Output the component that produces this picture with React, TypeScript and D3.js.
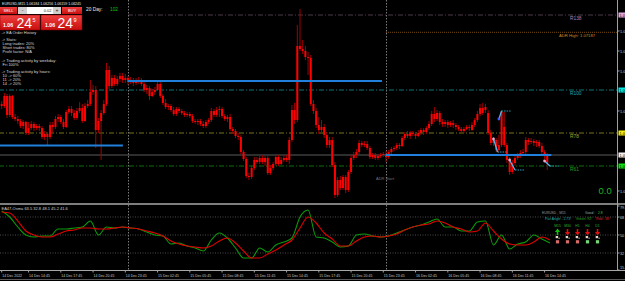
import React from "react";
import * as d3 from "d3";

const W = 625;
const H = 281;
const FONT = "'Liberation Sans', Arial, sans-serif";

// M15 bars; bar index 0 = 15 Dec 2022 00:00
const FIRST_BAR = -47;
const opens = [
  1.0647,1.0645,1.0655,1.0636,1.0655,1.0634,1.0632,1.0630,1.0625,1.0629,
  1.0618,1.0623,1.0627,1.0623,1.0625,1.0623,1.0614,1.0617,1.0614,1.0626,
  1.0624,1.0632,1.0634,1.0629,1.0624,1.0639,1.0642,1.0638,1.0633,1.0640,
  1.0643,1.0630,1.0645,1.0647,1.0659,1.0661,1.0621,1.0630,1.0638,1.0647,
  1.0681,1.0665,1.0673,1.0667,1.0672,1.0675,1.0671,1.0673,1.0669,1.0671,
  1.0668,1.0670,1.0671,1.0667,1.0661,1.0663,1.0655,1.0659,1.0661,1.0667,
  1.0655,1.0648,1.0644,1.0645,1.0641,1.0637,1.0642,1.0640,1.0638,1.0636,
  1.0637,1.0635,1.0630,1.0629,1.0630,1.0627,1.0625,1.0629,1.0631,1.0640,
  1.0636,1.0641,1.0642,1.0635,1.0632,1.0634,1.0622,1.0620,1.0615,1.0614,
  1.0599,1.0592,1.0575,1.0574,1.0583,1.0591,1.0589,1.0593,1.0589,1.0593,
  1.0578,1.0583,1.0587,1.0594,1.0587,1.0591,1.0593,1.0591,1.0611,1.0641,
  1.0631,1.0705,1.0702,1.0700,1.0694,1.0693,1.0647,1.0640,1.0626,1.0621,
  1.0624,1.0616,1.0606,1.0611,1.0586,1.0556,1.0571,1.0563,1.0574,1.0561,
  1.0579,1.0593,1.0596,1.0599,1.0608,1.0606,1.0607,1.0603,1.0594,1.0596,
  1.0593,1.0595,1.0596,1.0597,1.0594,1.0599,1.0602,1.0603,1.0606,1.0605,
  1.0613,1.0617,1.0615,1.0618,1.0617,1.0615,1.0618,1.0621,1.0619,1.0623,
  1.0627,1.0637,1.0632,1.0638,1.0629,1.0627,1.0629,1.0626,1.0628,1.0626,
  1.0624,1.0622,1.0620,1.0622,1.0624,1.0621,1.0626,1.0631,1.0637,1.0643,
  1.0641,1.0638,1.0618,1.0608,1.0611,1.0601,1.0606,1.0624,1.0606,1.0591,
  1.0579,1.0588,1.0593,1.0595,1.0598,1.0599,1.0611,1.0609,1.0610,1.0608,
  1.0609,1.0605,1.0599,1.0595,
];
const highs = [
  1.0650,1.0658,1.0657,1.0657,1.0656,1.0637,1.0635,1.0632,1.0631,1.0630,
  1.0629,1.0630,1.0629,1.0627,1.0627,1.0625,1.0620,1.0619,1.0629,1.0629,
  1.0635,1.0637,1.0636,1.0632,1.0641,1.0645,1.0645,1.0641,1.0643,1.0649,
  1.0647,1.0648,1.0651,1.0671,1.0666,1.0665,1.0633,1.0641,1.0651,1.0688,
  1.0685,1.0676,1.0676,1.0675,1.0678,1.0678,1.0677,1.0675,1.0674,1.0673,
  1.0673,1.0674,1.0673,1.0669,1.0666,1.0665,1.0662,1.0664,1.0670,1.0669,
  1.0657,1.0652,1.0647,1.0647,1.0644,1.0644,1.0644,1.0642,1.0640,1.0639,
  1.0639,1.0637,1.0632,1.0632,1.0632,1.0630,1.0631,1.0633,1.0643,1.0642,
  1.0644,1.0645,1.0644,1.0637,1.0636,1.0637,1.0624,1.0622,1.0618,1.0616,
  1.0601,1.0594,1.0578,1.0586,1.0594,1.0594,1.0595,1.0596,1.0595,1.0595,
  1.0586,1.0589,1.0596,1.0596,1.0594,1.0596,1.0596,1.0614,1.0646,1.0648,
  1.0726,1.0742,1.0711,1.0705,1.0699,1.0696,1.0651,1.0643,1.0634,1.0631,
  1.0627,1.0619,1.0614,1.0614,1.0589,1.0574,1.0575,1.0576,1.0576,1.0581,
  1.0596,1.0599,1.0602,1.0611,1.0610,1.0610,1.0610,1.0605,1.0598,1.0598,
  1.0597,1.0598,1.0599,1.0600,1.0601,1.0604,1.0605,1.0608,1.0608,1.0615,
  1.0619,1.0620,1.0620,1.0620,1.0619,1.0621,1.0623,1.0623,1.0625,1.0630,
  1.0640,1.0644,1.0641,1.0640,1.0632,1.0631,1.0631,1.0630,1.0631,1.0628,
  1.0626,1.0624,1.0624,1.0626,1.0626,1.0629,1.0633,1.0640,1.0647,1.0648,
  1.0647,1.0641,1.0621,1.0614,1.0613,1.0616,1.0641,1.0639,1.0608,1.0594,
  1.0591,1.0596,1.0598,1.0601,1.0602,1.0614,1.0613,1.0613,1.0612,1.0611,
  1.0611,1.0608,1.0601,1.0598,
];
const lows = [
  1.0642,1.0643,1.0633,1.0634,1.0632,1.0630,1.0627,1.0623,1.0622,1.0616,
  1.0616,1.0621,1.0620,1.0621,1.0620,1.0612,1.0611,1.0606,1.0612,1.0618,
  1.0622,1.0629,1.0627,1.0622,1.0623,1.0637,1.0635,1.0631,1.0631,1.0638,
  1.0628,1.0629,1.0643,1.0645,1.0656,1.0603,1.0618,1.0591,1.0636,1.0645,
  1.0662,1.0663,1.0665,1.0665,1.0669,1.0668,1.0668,1.0666,1.0667,1.0665,
  1.0666,1.0667,1.0665,1.0659,1.0657,1.0651,1.0654,1.0656,1.0660,1.0653,
  1.0646,1.0642,1.0641,1.0639,1.0635,1.0635,1.0638,1.0636,1.0634,1.0634,
  1.0633,1.0628,1.0627,1.0626,1.0625,1.0623,1.0623,1.0627,1.0629,1.0634,
  1.0634,1.0634,1.0633,1.0630,1.0629,1.0620,1.0617,1.0613,1.0611,1.0597,
  1.0590,1.0573,1.0571,1.0572,1.0581,1.0587,1.0587,1.0587,1.0585,1.0576,
  1.0576,1.0581,1.0585,1.0585,1.0586,1.0589,1.0589,1.0587,1.0609,1.0627,
  1.0629,1.0700,1.0697,1.0691,1.0676,1.0645,1.0637,1.0623,1.0617,1.0618,
  1.0613,1.0603,1.0603,1.0584,1.0553,1.0554,1.0561,1.0561,1.0558,1.0559,
  1.0577,1.0591,1.0593,1.0597,1.0604,1.0604,1.0601,1.0592,1.0592,1.0591,
  1.0591,1.0593,1.0594,1.0589,1.0592,1.0597,1.0600,1.0601,1.0602,1.0604,
  1.0611,1.0613,1.0612,1.0615,1.0612,1.0614,1.0616,1.0616,1.0617,1.0621,
  1.0625,1.0629,1.0630,1.0626,1.0624,1.0624,1.0623,1.0624,1.0623,1.0621,
  1.0620,1.0618,1.0618,1.0621,1.0620,1.0620,1.0624,1.0629,1.0635,1.0636,
  1.0638,1.0616,1.0606,1.0605,1.0599,1.0598,1.0604,1.0604,1.0588,1.0576,
  1.0577,1.0585,1.0591,1.0593,1.0595,1.0597,1.0606,1.0607,1.0605,1.0604,
  1.0603,1.0597,1.0592,1.0581,
];
const closes = [
  1.0645,1.0655,1.0636,1.0655,1.0634,1.0632,1.0630,1.0625,1.0629,1.0618,
  1.0623,1.0627,1.0623,1.0625,1.0623,1.0614,1.0617,1.0614,1.0626,1.0624,
  1.0632,1.0634,1.0629,1.0624,1.0639,1.0642,1.0638,1.0633,1.0640,1.0643,
  1.0630,1.0645,1.0647,1.0659,1.0661,1.0621,1.0630,1.0638,1.0647,1.0681,
  1.0665,1.0673,1.0667,1.0672,1.0675,1.0671,1.0673,1.0669,1.0671,1.0668,
  1.0670,1.0671,1.0667,1.0661,1.0663,1.0655,1.0659,1.0661,1.0667,1.0655,
  1.0648,1.0644,1.0645,1.0641,1.0637,1.0642,1.0640,1.0638,1.0636,1.0637,
  1.0635,1.0630,1.0629,1.0630,1.0627,1.0625,1.0629,1.0631,1.0640,1.0636,
  1.0641,1.0642,1.0635,1.0632,1.0634,1.0622,1.0620,1.0615,1.0614,1.0599,
  1.0592,1.0575,1.0574,1.0583,1.0591,1.0589,1.0593,1.0589,1.0593,1.0578,
  1.0583,1.0587,1.0594,1.0587,1.0591,1.0593,1.0591,1.0611,1.0641,1.0631,
  1.0705,1.0702,1.0700,1.0694,1.0693,1.0647,1.0640,1.0626,1.0621,1.0624,
  1.0616,1.0606,1.0611,1.0586,1.0556,1.0571,1.0563,1.0574,1.0561,1.0579,
  1.0593,1.0596,1.0599,1.0608,1.0606,1.0607,1.0603,1.0594,1.0596,1.0593,
  1.0595,1.0596,1.0597,1.0594,1.0599,1.0602,1.0603,1.0606,1.0605,1.0613,
  1.0617,1.0615,1.0618,1.0617,1.0615,1.0618,1.0621,1.0619,1.0623,1.0627,
  1.0637,1.0632,1.0638,1.0629,1.0627,1.0629,1.0626,1.0628,1.0626,1.0624,
  1.0622,1.0620,1.0622,1.0624,1.0623,1.0626,1.0631,1.0637,1.0643,1.0638,
  1.0644,1.0618,1.0608,1.0611,1.0601,1.0606,1.0639,1.0606,1.0591,1.0579,
  1.0588,1.0593,1.0595,1.0598,1.0599,1.0611,1.0609,1.0610,1.0608,1.0609,
  1.0605,1.0599,1.0595,1.0588,
];

// Price axis
const PRICE_MIN = 1.0551;
const PRICE_MAX = 1.0751;
const priceTicks = [1.074, 1.072, 1.07, 1.068, 1.066, 1.064, 1.062, 1.06, 1.058, 1.056];

// Fibonacci range levels
const levelNames = ["R138", "R100", "R78", "R61"];
const levelPrices = [1.0736, 1.0661, 1.0618, 1.0585];
const levelStartBar = [0, -48, -48, -48];
const adrHigh = 1.07187;
const adrStartBar = 96;
const bidPrice = 1.0596;

// Blue session lines
const sessionPrices = [1.067, 1.06055, 1.0596];
const sessionStart = [0, -48, 96];
const sessionEnd = [94.5, -1.9, 157.5];

// Trades
const tradeType = ["sell", "buy", "sell", "sell"];
const tradeOpenBar = [136, 138, 142, 155];
const tradeOpenPrice = [1.0612, 1.0632, 1.0591, 1.059];
const tradeCloseBar = [137.5, 139, 144, 157];
const tradeClosePrice = [1.0599, 1.064, 1.0581, 1.0585];

// Oscillator (sampled every 3 bars)
const OSC_FIRST = -47;
const OSC_STEP = 3;
const oscFast = [74,68,58,50,48,49,49,56,56,57,58,64,50,58,57,58,57,56,53,50,49,41,42,39,37,34,45,52,47,37,27,27,37,33,40,43,47,68,75,48,47,43,38,39,50,51,49,48,49,52,55,58,60,63,66,58,58,54,54,63,64,40,50,36,41,43,50,46,42];
const oscSlow = [73,72,64,54,50,48,48,51,54,55,57,57,56,56,57,58,57,56,54,52,49,44,41,39,38,37,39,44,47,42,34,27,27,31,35,40,45,57,68,62,52,46,39,39,44,48,49,48,49,51,55,58,60,61,64,62,58,56,53,54,62,54,46,41,40,40,43,48,45];
const oscGrid = [68, 50, 32];
const oscAxisLabels = ["79.0", "68", "50", "32", "15.0"];
const oscAxisValues = [79, 68, 50, 32, 15];

// Time axis
const timeBars = [-47, -37, -25, -13, -1, 11, 23, 35, 47, 59, 71, 83, 95, 107, 119, 131, 143, 155];
const timeLabels = [
  "14 Dec 2022", "14 Dec 14:45", "14 Dec 17:45", "14 Dec 20:45", "14 Dec 23:45",
  "15 Dec 02:45", "15 Dec 05:45", "15 Dec 08:45", "15 Dec 11:45", "15 Dec 14:45",
  "15 Dec 17:45", "15 Dec 20:45", "15 Dec 23:45", "16 Dec 02:45", "16 Dec 05:45",
  "16 Dec 08:45", "16 Dec 11:45", "16 Dec 14:45",
];
const daySeparators = [0, 96];

// Panel text
const infoLines = [
  "-> EA Order History", "-> Stats:", " Long trades: 20%", " Short trades: 80%", " Profit factor: N/A",
  "-> Trading activity by weekday:", " Fri 100%", "-> Trading activity by hours:", " 10 -> 60%", " 11 -> 20%", " 14 -> 20%",
];
const tfNames = ["M15", "M30", "H1", "H4", "D1"];
const tfTrend = ["up", "down", "down", "down", "down"];
const tfSignal = ["sell", "sell", "sell", "buy", "buy"];

const levelStyle: Record<string, { line: string; text: string; tag: string }> = {
  R138: { line: "#4a3848", text: "#b080b0", tag: "#e0a8e0" },
  R100: { line: "#0c7676", text: "#20a8a8", tag: "#00e8e8" },
  R78: { line: "#74741a", text: "#a8a828", tag: "#eeee10" },
  R61: { line: "#0c700c", text: "#20a020", tag: "#10e010" },
};
const infoY = [34, 40.8, 44.8, 49, 53, 61.5, 65.6, 72.6, 76.6, 80.9, 85.2];

export default function App() {
  const xS = d3.scaleLinear().domain([0, 96]).range([128, 386]);
  const yS = d3.scaleLinear().domain([PRICE_MIN, PRICE_MAX]).range([200, 0]);
  const oS = d3.scaleLinear().domain([15, 79]).range([270, 206]);
  const AX = 617.5;
  const oscLine = d3
    .line<number>()
    .x((_, k) => xS(OSC_FIRST + OSC_STEP * k))
    .y((v) => oS(v))
    .curve(d3.curveMonotoneX);
  const tfX = d3.scalePoint<string>().domain(tfNames).range([557.5, 597.5]);
  const fmt5 = d3.format(".5f");
  const tagYs = [...levelPrices, bidPrice].map((p) => yS(p));
  const visibleTicks = priceTicks.filter((p) => tagYs.every((ty) => Math.abs(ty - yS(p)) > 5));

  return (
    <svg width={W} height={H} style={{ position: "fixed", left: 0, top: 0, display: "block" }} fontFamily={FONT}>
      <defs>
        <clipPath id="mainClip"><rect x={0} y={0} width={AX} height={203} /></clipPath>
        <clipPath id="oscClip"><rect x={0} y={205} width={AX} height={65} /></clipPath>
        <linearGradient id="btn" x1="0" y1="0" x2="0" y2="1">
          <stop offset="0" stopColor="#f04040" />
          <stop offset="1" stopColor="#c80e0e" />
        </linearGradient>
      </defs>
      <rect x={0} y={0} width={W} height={H} fill="#000" />

      {/* ---------- main window ---------- */}
      <g clipPath="url(#mainClip)">
        <line x1={0} x2={AX} y1={yS(bidPrice)} y2={yS(bidPrice)} stroke="#2e2e2e" strokeWidth={2} />
        {levelNames.map((n, k) => (
          <line key={n} x1={xS(levelStartBar[k])} x2={AX} y1={yS(levelPrices[k])} y2={yS(levelPrices[k])}
            stroke={levelStyle[n].line} strokeWidth={1} strokeDasharray="5 2 1 2" />
        ))}
        <line x1={xS(adrStartBar)} x2={AX} y1={yS(adrHigh)} y2={yS(adrHigh)} stroke="#7a4c10" strokeWidth={1} strokeDasharray="1 1" />
        {daySeparators.map((b) => (
          <line key={b} x1={xS(b) + 0.5} x2={xS(b) + 0.5} y1={0} y2={203} stroke="#7a7a7a" strokeWidth={1} strokeDasharray="1.5 1.5" />
        ))}
        {opens.map((o, k) => {
          const x = xS(FIRST_BAR + k);
          const c = closes[k];
          const yt = yS(Math.max(o, c));
          const yb = yS(Math.min(o, c));
          return (
            <g key={k}>
              <line x1={x} x2={x} y1={yS(highs[k])} y2={yS(lows[k])} stroke="#a00000" strokeWidth={1} />
              <rect x={x - 1} y={yt} width={2} height={Math.max(1, yb - yt)} fill="#ff0000" />
            </g>
          );
        })}
        {sessionPrices.map((p, k) => (
          <line key={k} x1={xS(sessionStart[k])} x2={xS(sessionEnd[k])} y1={yS(p)} y2={yS(p)} stroke="#2080dc" strokeWidth={2} />
        ))}
        {tradeOpenBar.map((ob, t) => {
          const x1 = xS(ob), y1 = yS(tradeOpenPrice[t]);
          const x2 = xS(tradeCloseBar[t]), y2 = yS(tradeClosePrice[t]);
          return (
            <g key={t}>
              <line x1={x1} y1={y1} x2={x2} y2={y2} stroke="#58b4e8" strokeWidth={1.3} />
              <line x1={x2} x2={x2 + 9} y1={y2} y2={y2} stroke="#2f9cb4" strokeWidth={1} strokeDasharray="1.5 1" />
              <circle cx={x1} cy={y1} r={1.4} fill={tradeType[t] === "buy" ? "#3a5cff" : "#e8a8c8"} />
            </g>
          );
        })}
        {levelNames.map((n, k) => (
          <text key={n} x={570} y={yS(levelPrices[k]) + 4.6} fontSize={4.8} fill={levelStyle[n].text}>{n}</text>
        ))}
        <text x={559} y={yS(adrHigh) + 4.2} fontSize={4.2} fill="#d08a20">ADR High: {adrHigh.toFixed(5)}</text>
        <text x={376} y={179.5} fontSize={4} fill="#6e7880">ADR Start</text>
        <text x={598.5} y={193.5} fontSize={9.5} fill="#22b022">0.0</text>
      </g>

      {/* header + panel */}
      <text x={2} y={4.6} fontSize={3.6} fill="#e8e8e8">EURUSD,M15  1.06184 1.06256 1.06159 1.06245</text>
      <rect x={0} y={7} width={17} height={7} fill="url(#btn)" />
      <text x={8.5} y={12.2} fontSize={4} fill="#fff" textAnchor="middle">SELL</text>
      <rect x={18} y={7} width={9} height={7} fill="#cfcfcf" />
      <text x={22.5} y={12.3} fontSize={5} fill="#202020" textAnchor="middle">-</text>
      <rect x={27} y={7} width={26} height={7} fill="#ffffff" />
      <text x={51.5} y={12.2} fontSize={4} fill="#303030" textAnchor="end">0.02</text>
      <rect x={53} y={7} width={8} height={7} fill="#cfcfcf" />
      <text x={57} y={12.3} fontSize={5} fill="#202020" textAnchor="middle">+</text>
      <rect x={62} y={7} width={20} height={7} fill="url(#btn)" />
      <text x={72} y={12.2} fontSize={4} fill="#fff" textAnchor="middle">BUY</text>
      <rect x={0} y={15} width={40} height={15} fill="url(#btn)" stroke="#8a0000" strokeWidth={0.5} />
      <rect x={41} y={15} width={41} height={15} fill="url(#btn)" stroke="#8a0000" strokeWidth={0.5} />
      <text x={3} y={27.2} fontSize={5.2} fill="#fff" fontWeight="bold">1.06</text>
      <text x={16.5} y={28.3} fontSize={14} fill="#fff">24</text>
      <text x={32.5} y={21.5} fontSize={5.5} fill="#fff">5</text>
      <text x={45} y={27.2} fontSize={5.2} fill="#fff" fontWeight="bold">1.06</text>
      <text x={57.5} y={28.3} fontSize={14} fill="#fff">24</text>
      <text x={73.5} y={21.5} fontSize={5.5} fill="#fff">9</text>
      <text x={86} y={10.5} fontSize={4.8} fill="#e8e8e8">20 Day:</text>
      <text x={110} y={10.5} fontSize={4.8} fill="#10c010">102</text>
      {infoLines.map((t, k) => (
        <text key={k} x={1.5} y={infoY[k]} fontSize={4} fill="#d8d8d8" style={{ whiteSpace: "pre" }}>{t}</text>
      ))}

      {/* right price axis */}
      {visibleTicks.map((p) => (
        <g key={p}>
          <line x1={AX} x2={AX + 2} y1={yS(p)} y2={yS(p)} stroke="#a0a0a0" />
          <text x={620} y={yS(p) + 1.5} fontSize={3.8} fill="#c8c8c8">{fmt5(p)}</text>
        </g>
      ))}
      {levelNames.map((n, k) => (
        <g key={n}>
          <rect x={618.5} y={yS(levelPrices[k]) - 2.5} width={7} height={5} fill={levelStyle[n].tag} />
          <text x={619.5} y={yS(levelPrices[k]) + 1.5} fontSize={3.8} fill="#000">{fmt5(levelPrices[k])}</text>
        </g>
      ))}
      <rect x={618.5} y={yS(bidPrice) - 2.5} width={7} height={5} fill="#f4f4f4" />
      <text x={619.5} y={yS(bidPrice) + 1.5} fontSize={3.8} fill="#000">{fmt5(bidPrice)}</text>

      <line x1={0} x2={W} y1={204} y2={204} stroke="#a8a8a8" strokeWidth={1.5} />

      {/* ---------- oscillator window ---------- */}
      {oscGrid.map((v) => (
        <line key={v} x1={0} x2={AX} y1={oS(v)} y2={oS(v)} stroke="#4a4a4a" strokeWidth={1} strokeDasharray="1 1.5" />
      ))}
      {daySeparators.map((b) => (
        <line key={b} x1={xS(b) + 0.5} x2={xS(b) + 0.5} y1={205} y2={270} stroke="#7a7a7a" strokeWidth={1} strokeDasharray="1.5 1.5" />
      ))}
      <g clipPath="url(#oscClip)">
        <path d={oscLine(oscFast) || ""} fill="none" stroke="#0c9a0c" strokeWidth={1.1} />
        <path d={oscLine(oscSlow) || ""} fill="none" stroke="#e00000" strokeWidth={1.1} />
      </g>
      <text x={1.5} y={209.5} fontSize={4} fill="#d0d0d0">EA47-Osma 63.5 32.8 48.1 45.2 41.6</text>
      {oscAxisValues.map((v, k) => (
        <g key={v}>
          <line x1={AX} x2={AX + 2} y1={oS(v)} y2={oS(v)} stroke="#a0a0a0" />
          <text x={620} y={Math.min(268.5, Math.max(208.5, oS(v) + 1.5))} fontSize={3.8} fill="#c8c8c8">{oscAxisLabels[k]}</text>
        </g>
      ))}

      {/* dashboard */}
      <g fontSize={3.4}>
        <text x={542} y={213.5} fill="#9a9a9a">EURUSD , M15</text>
        <text x={585} y={213.5} fill="#9aa89a">Good :</text>
        <text x={598} y={213.5} fill="#40c040">2.8</text>
        <text x={545} y={220} fill="#20b0a0">Pair Angle: -1.73°</text>
        <text x={576} y={220} fill="#20b020">Green: 92°</text>
        <text x={596} y={220} fill="#e02020">Red: -36°</text>
        {tfNames.map((n, k) => {
          const cx = tfX(n) as number;
          const up = tfTrend[k] === "up";
          return (
            <g key={n}>
              <text x={cx} y={226.5} fill="#30b030" textAnchor="middle">{n}</text>
              {up ? (
                <path d={`M${cx - 2.6},${232} L${cx},${228.6} L${cx + 2.6},${232} L${cx + 0.8},${232} L${cx + 0.8},${235} L${cx - 0.8},${235} L${cx - 0.8},${232} Z`} fill="#10c010" />
              ) : (
                <path d={`M${cx - 2.6},${232} L${cx},${235.4} L${cx + 2.6},${232} L${cx + 0.8},${232} L${cx + 0.8},${229} L${cx - 0.8},${229} L${cx - 0.8},${232} Z`} fill="#e01010" />
              )}
              <rect x={cx - 1.8} y={236} width={2.4} height={2.2} fill="#f0d8c8" />
              <rect x={cx + 0.9} y={237.5} width={1.4} height={1.4} fill="#909090" />
              <rect x={cx - 1.6} y={240.2} width={3.2} height={3.2} fill={tfSignal[k] === "buy" ? "#78d878" : "#d86a6a"} />
            </g>
          );
        })}
      </g>

      <line x1={AX} x2={AX} y1={0} y2={270} stroke="#a0a0a0" strokeWidth={1} />
      <line x1={0} x2={W} y1={270.5} y2={270.5} stroke="#a8a8a8" strokeWidth={1} />
      {timeBars.map((b, k) => (
        <g key={b}>
          <line x1={xS(b)} x2={xS(b)} y1={270.5} y2={272.5} stroke="#a0a0a0" />
          <text x={xS(b) + 0.5} y={276.6} fontSize={3.5} fill="#c8c8c8">{timeLabels[k]}</text>
        </g>
      ))}
      <line x1={0} x2={W} y1={279.5} y2={279.5} stroke="#5a5a5a" strokeWidth={1} />
    </svg>
  );
}
